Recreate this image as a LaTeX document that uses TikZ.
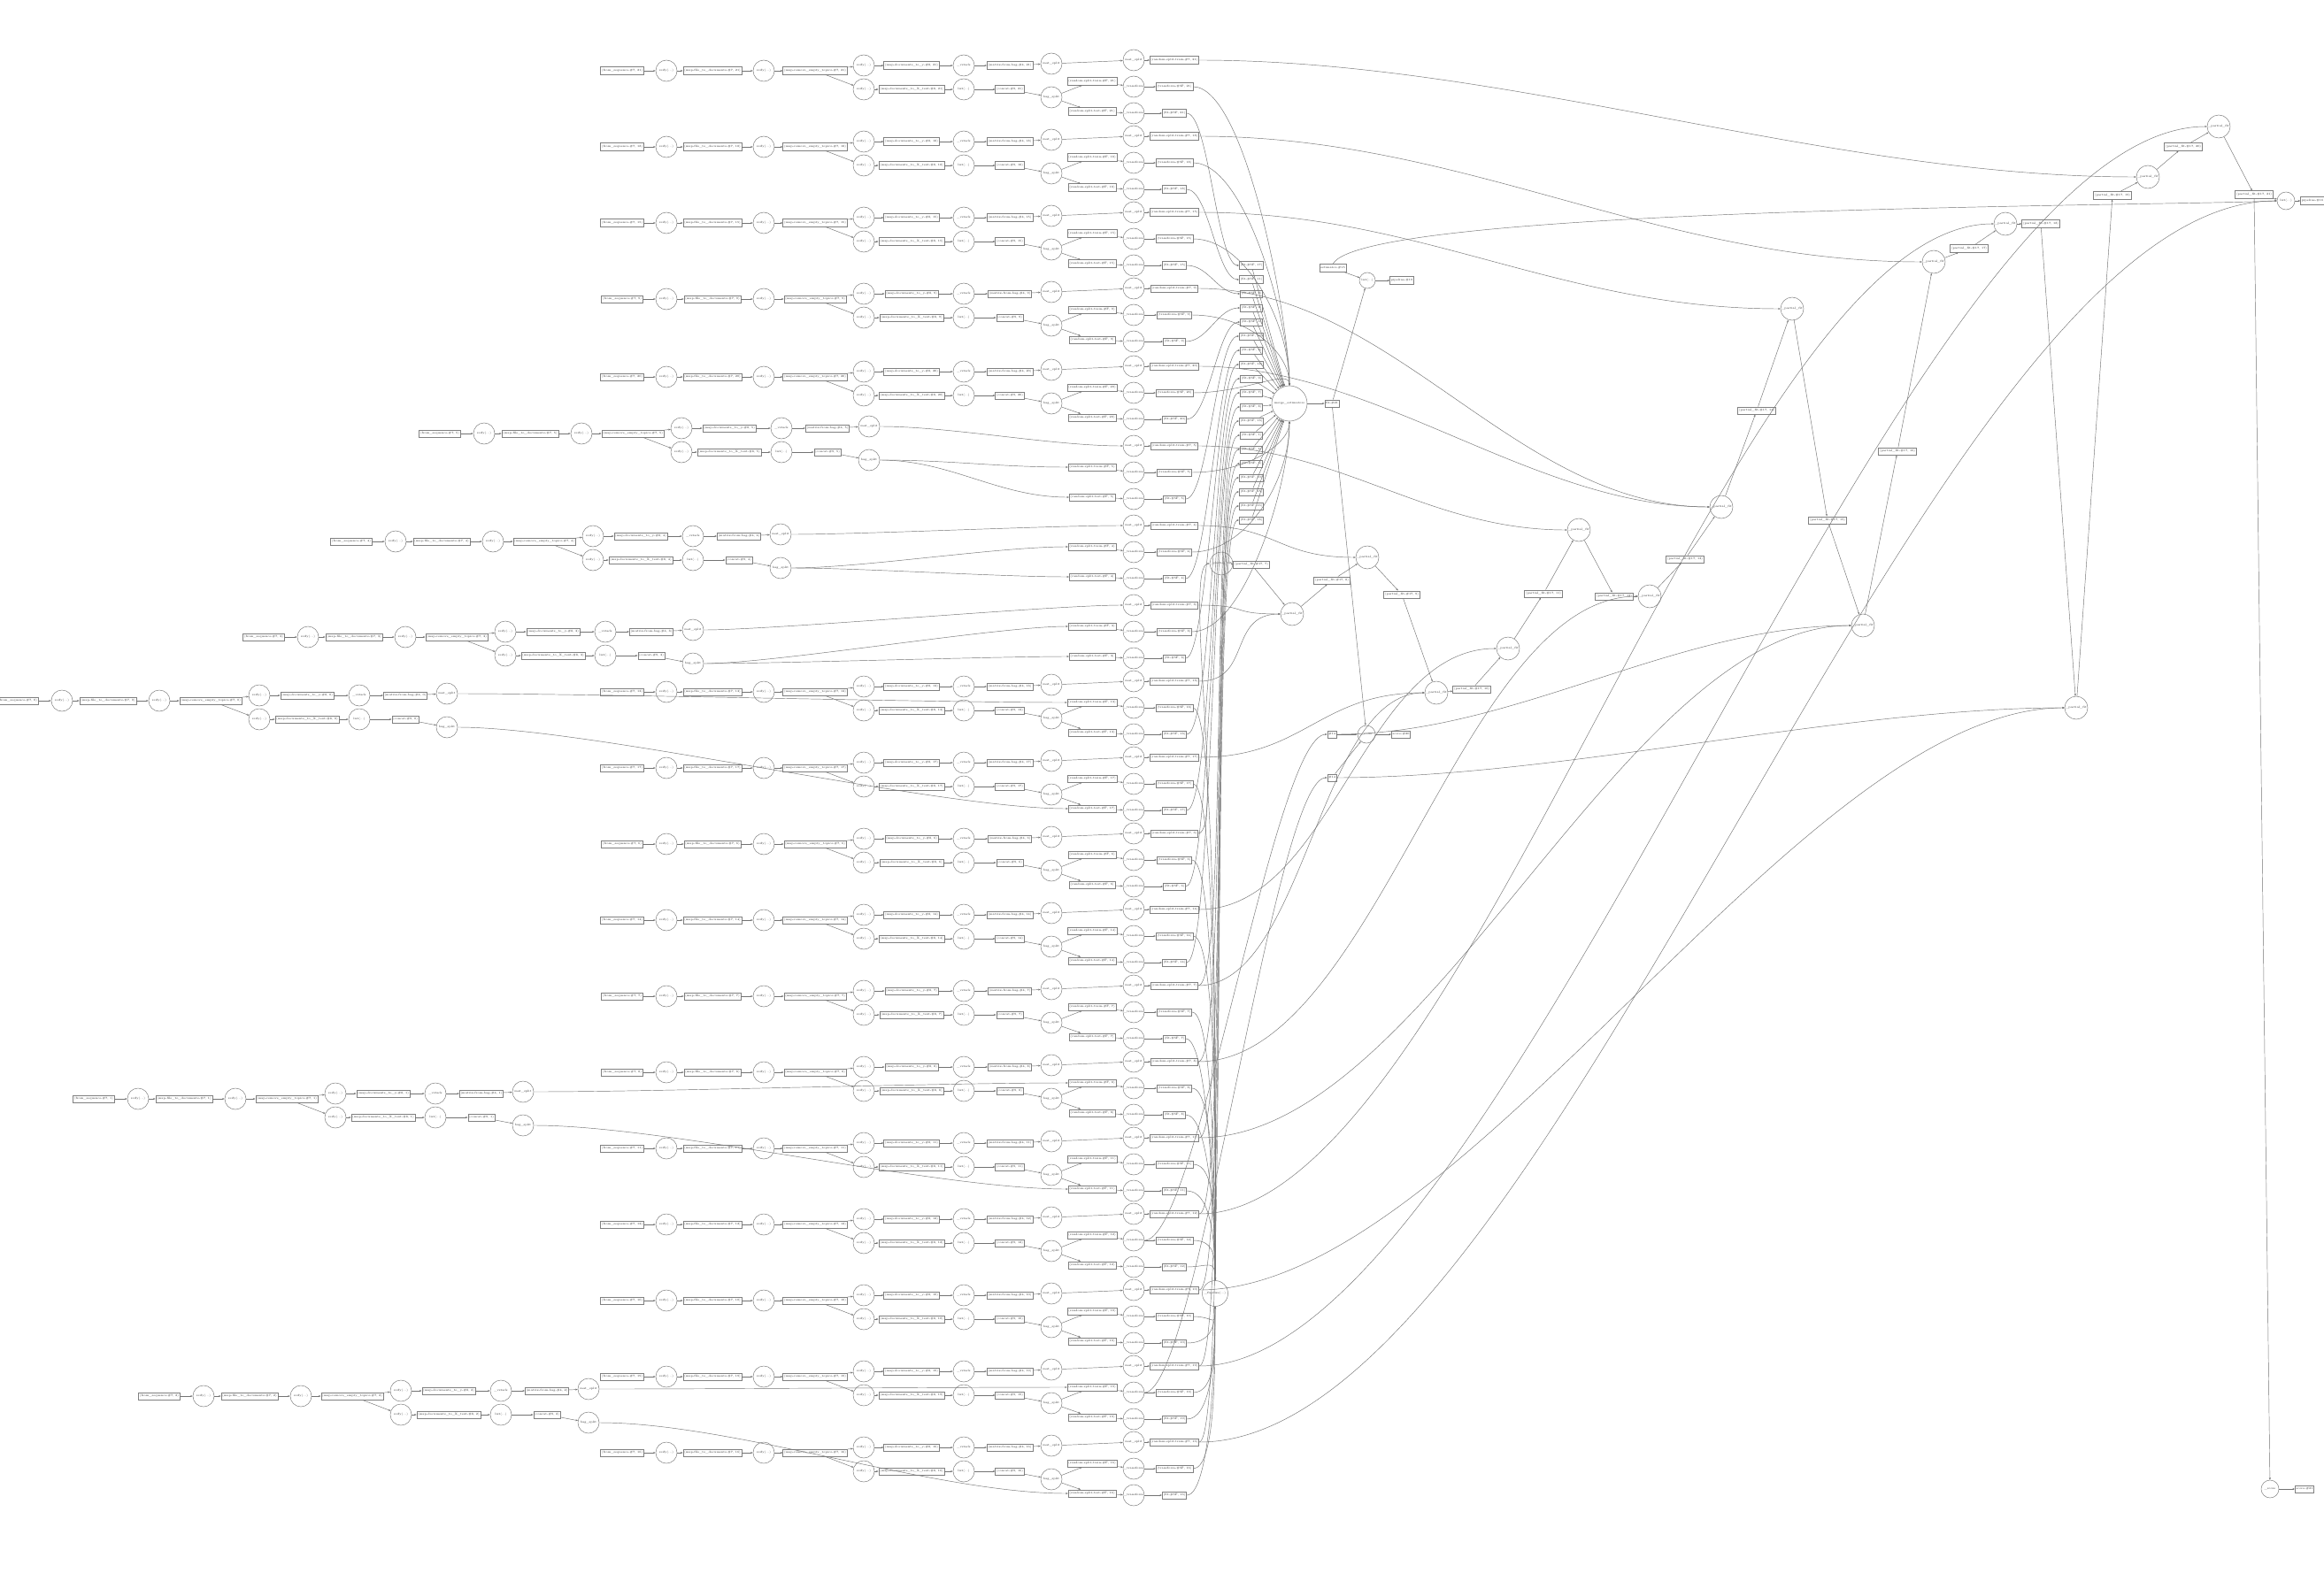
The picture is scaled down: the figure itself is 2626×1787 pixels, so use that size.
\documentclass[tikz,border=0pt]{standalone}
\usetikzlibrary{calc,arrows.meta}
\newcommand{\dchain}[4]{%
\begin{scope}[shift={(#2,#3)}]
\node[bx] (#1-a) at (0,0) {(from\_sequence-\#7, #4)};
\node[cr] (#1-b) at (50,0) {reify(...)};
\node[bx] (#1-c) at (102,0) {(map-file\_to\_documents-\#7, #4)};
\node[cr] (#1-d) at (160,0) {reify(...)};
\node[bx] (#1-e) at (218,0) {(map-remove\_empty\_topics-\#7, #4)};
\node[cr] (#1-f) at (273,-6) {reify(...)};
\node[cr] (#1-g) at (273,21) {reify(...)};
\node[bx] (#1-h) at (327,-6) {(map-documents\_to\_y-\#8, #4)};
\node[bx] (#1-i) at (327,21) {(map-documents\_to\_X\_text-\#8, #4)};
\node[cr] (#1-j) at (386,-6) {\_vstack};
\node[cr] (#1-k) at (386,21) {list(...)};
\node[bx] (#1-l) at (438,-6) {(matrix-from-bag-\#4, #4)};
\node[bx] (#1-m) at (438,21) {(concat-\#9, #4)};
\end{scope}
\draw[ed] (#1-a) -- (#1-b);
\draw[ed] (#1-b) -- (#1-c);
\draw[ed] (#1-c) -- (#1-d);
\draw[ed] (#1-d) -- (#1-e);
\draw[ed] (#1-e) -- (#1-f);
\draw[ed] (#1-e) -- (#1-g);
\draw[ed] (#1-f) -- (#1-h);
\draw[ed] (#1-g) -- (#1-i);
\draw[ed] (#1-h) -- (#1-j);
\draw[ed] (#1-i) -- (#1-k);
\draw[ed] (#1-j) -- (#1-l);
\draw[ed] (#1-k) -- (#1-m);
}
% r/t/b group: name, y, k
\newcommand{\tgroup}[3]{%
\node[bx] (#1-r1) at (1234,#2+12) {(random-split-train-\#F, #3)};
\node[bx] (#1-r2) at (1234,#2+46) {(random-split-test-\#F, #3)};
\node[cr] (#1-t1) at (1281,#2-12) {mat\_split};
\node[cr] (#1-t2) at (1281,#2+18) {\_transform};
\node[cr] (#1-t3) at (1281,#2+48) {\_transform};
\node[bx] (#1-b1) at (1327,#2-12) {(random-split-train-\#7, #3)};
\node[bx] (#1-b2) at (1327,#2+18) {(transform-\#5F, #3)};
\node[bx] (#1-b3) at (1327,#2+48) {(fit-\#5F, #3)};
\draw[ed] (#1-r1) -- (#1-t2);
\draw[ed] (#1-r2) -- (#1-t3);
\draw[ed] (#1-t1) -- (#1-b1);
\draw[ed] (#1-t2) -- (#1-b2);
\draw[ed] (#1-t3) -- (#1-b3);
}
\begin{document}
\begin{tikzpicture}[x=1pt,y=-1pt,
  every node/.style={font=\fontsize{3.2}{3.8}\selectfont, text=black!85},
  bx/.style={draw=black!50, line width=0.5pt, inner sep=1.2pt, minimum height=8.5pt, rectangle},
  cr/.style={draw=black!50, line width=0.5pt, circle, minimum size=24pt, inner sep=0pt},
  ed/.style={draw=black!55, line width=0.45pt, -{Stealth[length=2.6pt,width=2pt]}}]
\fill[white] (0,0) rectangle (2626,1787);
\useasboundingbox (0,0) rectangle (2626,1787);

% hubs
\node[cr, minimum size=40pt] (ME) at (1457,456) {merge\_estimators};
\node[cr, minimum size=29pt] (FI) at (1373,1462) {\_finalize(...)};
\node[bx] (F21) at (1505,456) {fit-\#21};
\node[bx] (E15) at (1506,303) {estimator-\#15};
\node[cr, minimum size=18pt] (L1) at (1545,317) {list(...)};
\node[bx] (P19) at (1584,317) {pipeline-\#19};
\node[cr, minimum size=20pt] (S1) at (1544,830) {\_score};
\node[bx] (X1) at (1505,830) {\#14};
\node[bx] (X2) at (1505,879) {\#14};
\node[bx] (S20) at (1583,830) {score-\#20};
\draw[ed] (ME) -- (F21);
\draw[ed] (E15) -- (L1);
\draw[ed] (F21) -- (L1);
\draw[ed] (L1) -- (P19);
\draw[ed] (F21) -- (S1);
\draw[ed] (X1) -- (S1);
\draw[ed] (X2) -- (S1);
\draw[ed] (S1) -- (S20);

% fit boxes next to merge_estimators
\foreach \nm/\kk [count=\i from 0] in {A/17,B/11,C/0,D/3,E/6,C5/12,C4/2,C3/14,F/9,G/7,H/8,I/13,J/1,K/4,L/5,M/10,N/15,O/16,P/18}{
  \node[bx] (FB-\nm) at (1414,{300+16*\i}) {(fit-\#5F, \kk)};
  \draw[ed] (FB-\nm) -- (ME);
}

% partial_fit zigzag
\foreach \nm/\xx/\yy in {Z0/1380/637,Z1/1460/694,Z2/1545/630,Z3/1623/783,Z4/1704/733,Z5/1784/599,Z6/1864/674,Z7/1945/573,Z8/2025/349,Z9/2105/707,Z10/2185/296,Z11/2266/253,Z12/2346/800,Z13/2427/200,Z14/2507/143}{
  \node[cr, minimum size=26pt] (\nm) at (\xx,\yy) {\_partial\_fit};
}
\foreach \nm/\xx/\yy in {7/1414/638,8/1505/656,9/1584/672,10/1663/779,11/1744/671,12/1824/674,13/1904/632,14/1985/464,15/2065/588,16/2144/510,17/2225/281,18/2306/253,19/2387/221,20/2467/166,21/2547/220}{
  \node[bx] (Q\nm) at (\xx,\yy) {(partial\_fit-\#17, \nm)};
}
\node[cr, minimum size=20pt] (L2) at (2583,227) {list(...)};
\node[bx] (P16) at (2613,227) {pipeline-\#16};
\foreach \a/\b in {Z0/Q7,Q7/Z1,Z1/Q8,Q8/Z2,Z2/Q9,Q9/Z3,Z3/Q10,Q10/Z4,Z4/Q11,Q11/Z5,Z5/Q12,Q12/Z6,Z6/Q13,Q13/Z7,Z7/Q14,Q14/Z8,Z8/Q15,Q15/Z9,Z9/Q16,Q16/Z10,Z10/Q17,Q17/Z11,Z11/Q18,Q18/Z12,Z12/Q19,Q19/Z13,Z13/Q20,Q20/Z14,Z14/Q21,Q21/L2,L2/P16}{
  \draw[ed] (\a) -- (\b);
}
\node[cr, minimum size=20pt] (S2) at (2565,1683) {\_score};
\node[bx] (S21) at (2604,1683) {score-\#21};
\draw[ed] (Q21) -- (S2);
\draw[ed] (S2) -- (S21);
\draw[ed] (E15.north) .. controls (1540,233) and (2450,233) .. (L2.west);

% middle chains
\foreach \nm/\y/\k in {A/80/21,B/166/18,C/252/15,D/338/9,E/426/20,F/782/13,G/868/17,H/954/6,I/1040/14,J/1126/7,K/1212/8,L/1298/11,M/1384/12,N/1470/10,O/1556/19,P/1642/16}{
  \dchain{\nm}{703}{\y}{\k}
  \node[cr] (\nm-o1) at (1188,\y-8) {mat\_split};
  \node[cr] (\nm-o2) at (1188,\y+30) {bag\_split};
  \tgroup{\nm}{\y}{\k}
  \draw[ed] (\nm-l) -- (\nm-o1);
  \draw[ed] (\nm-m) -- (\nm-o2);
  \draw[ed] (\nm-o1) -- (\nm-t1);
  \draw[ed] (\nm-o2) -- (\nm-r1);
  \draw[ed] (\nm-o2) -- (\nm-r2);
}

% left chains
\foreach \nm/\x/\y/\k in {C5/497/490/5,C4/397/612/4,C3/298/720/3,C0/20/792/0,C1/106/1242/1,C2/180/1578/2}{
  \dchain{\nm}{\x}{\y}{\k}
  \node[cr] (\nm-o1) at (\x+485,\y-8) {mat\_split};
  \node[cr] (\nm-o2) at (\x+485,\y+30) {bag\_split};
  \draw[ed] (\nm-l) -- (\nm-o1);
  \draw[ed] (\nm-m) -- (\nm-o2);
}
\foreach \nm/\yt/\k in {C5/516/5,C4/606/4,C3/696/3}{
  \tgroup{\nm}{\yt}{\k}
  \draw[ed] (\nm-o1.east) .. controls +(80,0) and +(-80,0) .. (\nm-t1.west);
  \draw[ed] (\nm-o2.east) .. controls +(80,0) and +(-80,0) .. (\nm-r1.west);
  \draw[ed] (\nm-o2.east) .. controls +(80,0) and +(-80,0) .. (\nm-r2.west);
}
\foreach \s/\t in {C0-o1/F-r1,C0-o2/G-r2,C1-o1/K-r1,C1-o2/L-r2,C2-o1/O-r1,C2-o2/P-r2}{
  \draw[ed] (\s.east) .. controls +(150,0) and +(-150,0) .. (\t.west);
}

% outputs of the groups
\foreach \nm/\y in {A/80,B/166,C/252,D/338,E/426,C5/516,C4/606,C3/696}{
  \pgfmathsetmacro\dd{(\y+18-456)<0 ? -max(min(abs(\y+18-456)*0.6,90),40) : max(min(abs(\y+18-456)*0.6,90),40)}
  \draw[ed] (\nm-b2.east) .. controls +(60,0) and +(0,\dd) .. (ME);
  \draw[ed] (\nm-b3.east) .. controls +(25,0) and +(-25,0) .. (FB-\nm.west);
}
\foreach \nm/\y in {F/782,G/868,H/954,I/1040}{
  \draw[ed] (\nm-b2.east) .. controls +(30,0) and +(0,-90) .. (FI);
  \draw[ed] (\nm-b3.east) .. controls +(30,0) and +(-30,0) .. (FB-\nm.west);
}
\foreach \nm/\y in {J/1126,K/1212,L/1298,M/1384,N/1470,O/1556,P/1642}{
  \pgfmathsetmacro\dd{(\y+18-1462)<0 ? -max(min(abs(\y+18-1462)*0.6,90),40) : max(min(abs(\y+18-1462)*0.6,90),40)}
  \pgfmathsetmacro\de{(\y+48-1462)<0 ? -max(min(abs(\y+48-1462)*0.6,90),40) : max(min(abs(\y+48-1462)*0.6,90),40)}
  \draw[ed] (\nm-b2.east) .. controls +(25,0) and +(0,\dd) .. (FI);
  \draw[ed] (\nm-b3.east) .. controls +(25,0) and +(0,\de) .. (FI);
  \draw[ed] (\nm-b1.east) .. controls +(35,0) and +(-35,0) .. (FB-\nm.west);
}

% long edges to the partial_fit chain
\foreach \s/\t/\c in {H/Z0/30,F/Z1/60,C4/Z2/90,J/Z3/120,I/Z4/150,C5/Z5/160,K/Z6/200,D/Z7/220,C/Z8/250,L/Z9/260,B/Z10/300,M/Z11/300,N/Z12/300,A/Z13/350,O/Z14/350,P/L2/400,G/Z3/120,E/Z7/200,C3/Z1/60}{
  \draw[ed] (\s-b1.east) .. controls +(\c,0) and +(-\c,0) .. (\t.west);
}
\draw[ed] (M-t2.east) .. controls +(60,0) and +(-60,0) .. (X1.west);
\draw[ed] (O-t2.east) .. controls +(60,0) and +(-60,0) .. (X2.west);
\draw[ed] (X1.east) .. controls +(200,0) and +(-200,0) .. (Z9.west);
\draw[ed] (X2.east) .. controls +(250,0) and +(-250,0) .. (Z12.west);
\end{tikzpicture}
\end{document}
